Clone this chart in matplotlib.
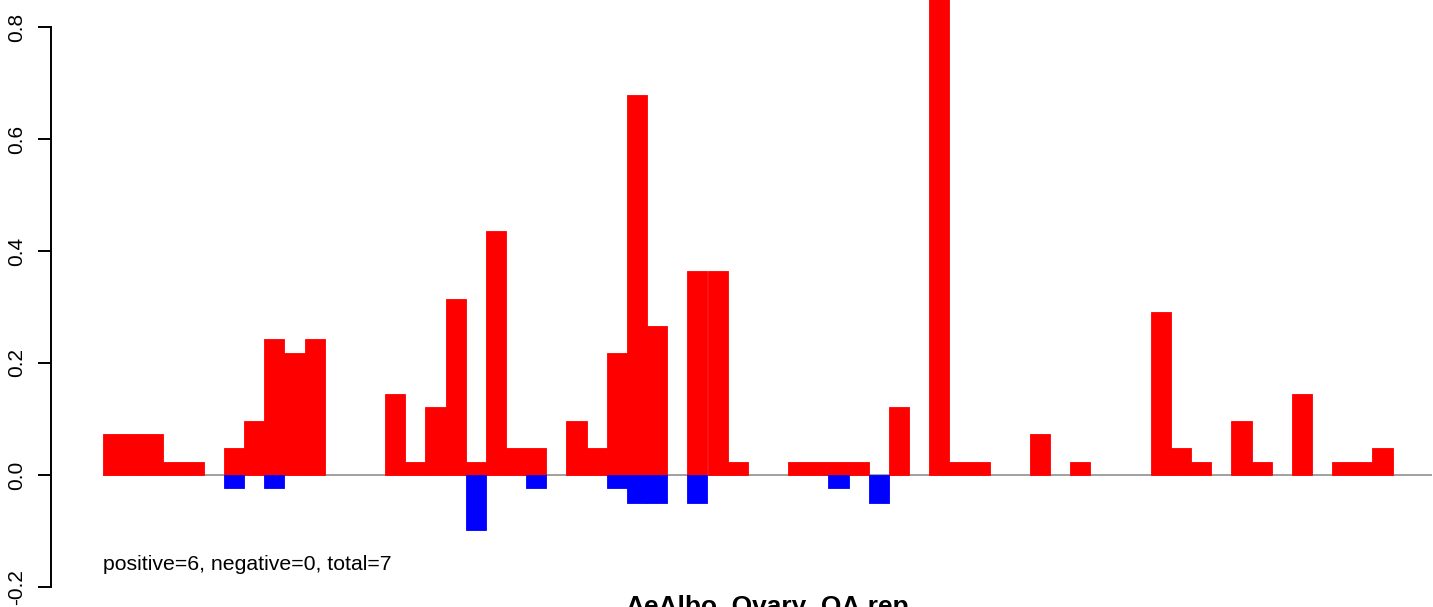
import matplotlib
matplotlib.use("Agg")
import matplotlib.pyplot as plt
import numpy as np

plt.rcParams['font.family'] = ['Liberation Sans', 'DejaVu Sans']

# slot index of each bar (bins of equal width)
pos_slots = [0, 1, 2, 3, 4, 6, 7, 8, 9, 10, 14, 15, 16, 17, 18, 19, 20, 21,
             23, 24, 25, 26, 27, 29, 30, 31, 34, 35, 36, 37, 39, 41, 42, 43,
             46, 48, 52, 53, 54, 56, 57, 59, 61, 62, 63]
pos_values = [0.073, 0.073, 0.073, 0.024, 0.024, 0.048, 0.096, 0.243, 0.218, 0.243,
              0.145, 0.024, 0.121, 0.314, 0.024, 0.436, 0.048, 0.048,
              0.096, 0.048, 0.218, 0.678, 0.266, 0.364, 0.364, 0.024,
              0.024, 0.024, 0.024, 0.024, 0.121, 0.95, 0.024, 0.024,
              0.073, 0.024, 0.291, 0.048, 0.024, 0.096, 0.024, 0.145,
              0.024, 0.024, 0.048]
neg_slots = [6, 8, 18, 21, 25, 26, 27, 29, 36, 38]
neg_values = [-0.024, -0.024, -0.098, -0.024, -0.024, -0.05, -0.05, -0.05, -0.024, -0.05]

yticks = [-0.2, 0.0, 0.2, 0.4, 0.6, 0.8]
ytick_labels = ["-0.2", "0.0", "0.2", "0.4", "0.6", "0.8"]
annotation = "positive=6, negative=0, total=7"
title = "AeAlbo_Ovary_OA.rep"

W, H = 1433, 607
fig = plt.figure(figsize=(W / 100, H / 100), dpi=100)

# pixel geometry
x0_px, slot_px = 103.0, 20.15
zero_px, unit_px = 475.0, 560.0  # pixels per 1.0
left_px, right_px = 51.0, 1432.0
ax = fig.add_axes([left_px / W, 0, (right_px - left_px) / W, 1])
ax.set_xlim((left_px - x0_px) / slot_px, (right_px - x0_px) / slot_px)
ax.set_ylim((zero_px - H) / unit_px, zero_px / unit_px)

ax.bar(pos_slots, pos_values, width=1.0, align='edge', color='#ff0000',
       edgecolor='#ff0000', linewidth=0.6, zorder=2)
ax.bar(neg_slots, neg_values, width=1.0, align='edge', color='#0000ff',
       edgecolor='#0000ff', linewidth=0.6, zorder=2)
ax.hlines(0, 0, (right_px - x0_px) / slot_px, color='#999999', linewidth=1.3, zorder=1)

for s in ['top', 'right', 'bottom']:
    ax.spines[s].set_visible(False)
ax.spines['left'].set_bounds(-0.2, 0.8)
ax.spines['left'].set_linewidth(1.4)
ax.set_xticks([])
ax.set_yticks(yticks)
ax.set_yticklabels(ytick_labels, rotation=90, va='center', fontsize=15)
ax.tick_params(axis='y', length=9.7, width=1.4, pad=8)

ax.text(0, -0.159, annotation, ha='left', va='center', fontsize=15.3)
ax.text((767.5 - x0_px) / slot_px, (zero_px - 595) / unit_px, title, ha='center', va='top',
        fontsize=18.9, fontweight='bold')

fig.savefig("out.png", dpi=100)
